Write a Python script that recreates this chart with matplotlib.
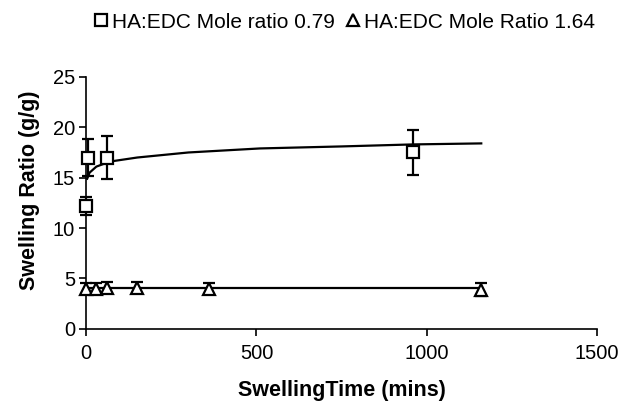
import numpy as np
import matplotlib
matplotlib.use('Agg')
import matplotlib.pyplot as plt
from matplotlib.lines import Line2D

plt.rcParams['font.family'] = ['Liberation Sans', 'DejaVu Sans']

# HA:EDC mole ratio 0.79 (squares)
sq_time = [0, 5, 60, 960]
sq_ratio = [12.2, 17.0, 17.0, 17.5]
sq_err = [0.9, 1.8, 2.1, 2.2]
sq_trend_time = [3, 10, 30, 70, 150, 300, 510, 750, 960, 1160]
sq_trend_ratio = [14.9, 15.5, 16.1, 16.6, 17.0, 17.5, 17.9, 18.1, 18.3, 18.4]

# HA:EDC mole ratio 1.64 (triangles)
tr_time = [0, 30, 60, 150, 360, 1160]
tr_ratio = [4.0, 4.0, 4.1, 4.1, 4.0, 3.9]
tr_err = [0.5, 0.5, 0.5, 0.5, 0.5, 0.6]
tr_trend_time = [0, 1160]
tr_trend_ratio = [4.05, 4.05]

fig = plt.figure(figsize=(6.2, 4.09), dpi=100)
ax = fig.add_axes([0.139, 0.196, 0.824, 0.616])

ax.plot(sq_trend_time, sq_trend_ratio, color='black', lw=1.6, zorder=2)
ax.plot(tr_trend_time, tr_trend_ratio, color='black', lw=1.6, zorder=2)

for t, r, e, m, ms in [(sq_time, sq_ratio, sq_err, 's', 9), (tr_time, tr_ratio, tr_err, '^', 8)]:
    parts = ax.errorbar(t, r, yerr=e, fmt=m, ms=ms, mfc='white', mec='black',
                        mew=1.6, ecolor='black', elinewidth=1.6, capsize=4,
                        capthick=1.6, zorder=3)
    parts[0].set_clip_on(False)
    for art in parts[1]:
        art.set_clip_on(False)
    for art in parts[2]:
        art.set_clip_on(False)

ax.set_xlim(0, 1500)
ax.set_ylim(0, 25)
ax.set_xticks([0, 500, 1000, 1500])
ax.set_yticks([0, 5, 10, 15, 20, 25])
ax.tick_params(labelsize=14.5, width=1.2, length=5, color='black')
ax.tick_params(axis='x', pad=6)
ax.tick_params(axis='y', pad=3)
for s in ['top', 'right']:
    ax.spines[s].set_visible(False)
ax.spines['left'].set_linewidth(1.2)
ax.spines['bottom'].set_linewidth(1.2)

ax.set_xlabel('SwellingTime (mins)', fontsize=15.5, fontweight='bold', labelpad=12)
ax.set_ylabel('Swelling Ratio (g/g)', fontsize=15.5, fontweight='bold', labelpad=6)
ax.yaxis.set_label_coords(-0.09, 0.55)

handles = [
    Line2D([], [], marker='s', ls='none', ms=9, mfc='white', mec='black', mew=1.6),
    Line2D([], [], marker='^', ls='none', ms=9, mfc='white', mec='black', mew=1.6),
]
fig.legend(handles, ['HA:EDC Mole ratio 0.79', 'HA:EDC Mole Ratio 1.64'],
           loc='center', bbox_to_anchor=(0.556, 0.946), ncol=2, frameon=False,
           fontsize=15, handlelength=0.6, handletextpad=0.2, columnspacing=0.6)

fig.savefig('out.png', dpi=100)
